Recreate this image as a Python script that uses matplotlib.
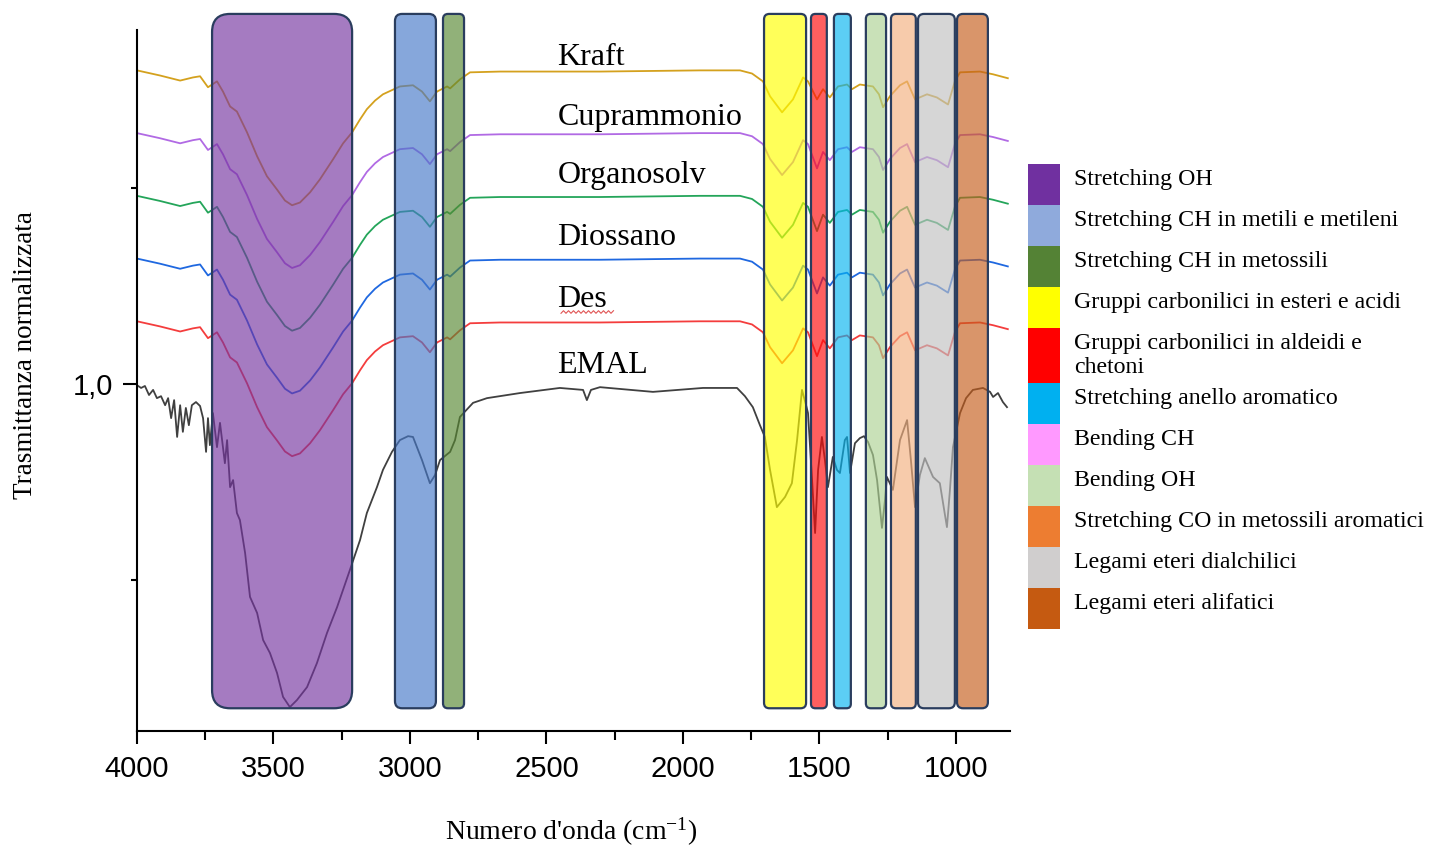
import numpy as np
import matplotlib.pyplot as plt
from matplotlib.colors import to_rgba
from matplotlib.patches import FancyBboxPatch, Rectangle
from matplotlib.ticker import MultipleLocator, FuncFormatter

plt.rcParams['font.family'] = ['Liberation Serif', 'DejaVu Serif']
plt.rcParams['mathtext.fontset'] = 'custom'
plt.rcParams['mathtext.rm'] = 'Liberation Serif'
plt.rcParams['mathtext.it'] = 'Liberation Serif:italic'

# wavenumbers (cm-1) at which the lignin spectra were read
wn_lig = [4000, 3916, 3842, 3795, 3769, 3740, 3707, 3685, 3659, 3634, 3597, 3560, 3524, 3487,
          3458, 3432, 3403, 3366, 3330, 3282, 3245, 3212, 3183, 3158, 3128, 3099, 3037, 2989,
          2956, 2927, 2901, 2864, 2853, 2817, 2780, 2670, 2304, 1938, 1791, 1747, 1707, 1681,
          1637, 1597, 1560, 1542, 1509, 1487, 1462, 1432, 1399, 1381, 1352, 1304, 1282, 1267,
          1242, 1205, 1179, 1150, 1106, 1070, 1029, 1004, 985, 912, 864, 810]

kraft = [1.800, 1.787, 1.774, 1.782, 1.785, 1.757, 1.772, 1.746, 1.708, 1.695, 1.642, 1.581, 1.530, 1.496,
         1.468, 1.456, 1.463, 1.489, 1.522, 1.573, 1.614, 1.642, 1.675, 1.701, 1.723, 1.739, 1.759, 1.762,
         1.746, 1.721, 1.746, 1.759, 1.754, 1.777, 1.795, 1.797, 1.797, 1.800, 1.800, 1.792, 1.772, 1.734,
         1.693, 1.726, 1.782, 1.772, 1.726, 1.752, 1.731, 1.759, 1.764, 1.752, 1.764, 1.759, 1.739, 1.706,
         1.734, 1.762, 1.772, 1.726, 1.739, 1.731, 1.713, 1.772, 1.795, 1.797, 1.790, 1.780]

cuprammonio = [1.640, 1.627, 1.614, 1.622, 1.625, 1.597, 1.612, 1.586, 1.548, 1.535, 1.482, 1.421, 1.370, 1.336,
               1.308, 1.296, 1.303, 1.329, 1.362, 1.413, 1.454, 1.482, 1.515, 1.541, 1.563, 1.579, 1.599, 1.602,
               1.586, 1.561, 1.586, 1.599, 1.594, 1.617, 1.635, 1.637, 1.637, 1.640, 1.640, 1.632, 1.612, 1.574,
               1.533, 1.566, 1.622, 1.612, 1.550, 1.592, 1.571, 1.599, 1.604, 1.592, 1.604, 1.599, 1.579, 1.546,
               1.574, 1.602, 1.612, 1.566, 1.579, 1.571, 1.553, 1.612, 1.635, 1.637, 1.630, 1.620]

organosolv = [1.480, 1.467, 1.454, 1.462, 1.465, 1.437, 1.452, 1.426, 1.388, 1.375, 1.322, 1.261, 1.210, 1.176,
              1.148, 1.136, 1.143, 1.169, 1.202, 1.253, 1.294, 1.322, 1.355, 1.381, 1.403, 1.419, 1.439, 1.442,
              1.426, 1.401, 1.426, 1.439, 1.434, 1.457, 1.475, 1.477, 1.477, 1.480, 1.480, 1.472, 1.452, 1.414,
              1.373, 1.406, 1.462, 1.452, 1.390, 1.432, 1.411, 1.439, 1.444, 1.432, 1.444, 1.439, 1.419, 1.386,
              1.414, 1.442, 1.452, 1.406, 1.419, 1.411, 1.393, 1.452, 1.475, 1.477, 1.470, 1.460]

diossano = [1.320, 1.307, 1.294, 1.302, 1.305, 1.277, 1.292, 1.266, 1.228, 1.215, 1.162, 1.101, 1.050, 1.016,
            0.988, 0.976, 0.983, 1.009, 1.042, 1.093, 1.134, 1.162, 1.195, 1.221, 1.243, 1.259, 1.279, 1.282,
            1.266, 1.241, 1.266, 1.279, 1.274, 1.297, 1.315, 1.317, 1.317, 1.320, 1.320, 1.312, 1.292, 1.254,
            1.213, 1.246, 1.302, 1.292, 1.231, 1.272, 1.251, 1.279, 1.284, 1.272, 1.284, 1.279, 1.259, 1.226,
            1.254, 1.282, 1.292, 1.246, 1.259, 1.251, 1.233, 1.292, 1.315, 1.317, 1.310, 1.300]

des = [1.160, 1.147, 1.134, 1.142, 1.145, 1.117, 1.132, 1.106, 1.068, 1.055, 1.002, 0.941, 0.890, 0.856,
       0.828, 0.816, 0.823, 0.849, 0.882, 0.933, 0.974, 1.002, 1.035, 1.061, 1.083, 1.099, 1.119, 1.122,
       1.106, 1.081, 1.106, 1.119, 1.114, 1.137, 1.155, 1.157, 1.157, 1.160, 1.160, 1.152, 1.132, 1.094,
       1.053, 1.086, 1.142, 1.132, 1.071, 1.112, 1.091, 1.119, 1.124, 1.112, 1.124, 1.119, 1.099, 1.066,
       1.094, 1.122, 1.132, 1.086, 1.099, 1.091, 1.073, 1.132, 1.155, 1.157, 1.150, 1.140]

# EMAL spectrum (noisier, read separately)
wn_emal = [4000, 3985, 3971, 3956, 3941, 3927, 3912, 3897, 3886, 3875, 3864, 3853, 3842, 3832,
           3821, 3810, 3799, 3784, 3769, 3758, 3747, 3740, 3733, 3722, 3707, 3696, 3678, 3670,
           3659, 3648, 3634, 3623, 3604, 3586, 3560, 3538, 3513, 3487, 3465, 3440, 3414, 3377,
           3341, 3304, 3267, 3220, 3183, 3158, 3121, 3099, 3066, 3037, 3007, 2989, 2956, 2927,
           2908, 2890, 2853, 2835, 2817, 2769, 2718, 2597, 2451, 2366, 2352, 2337, 2304, 2110,
           1927, 1802, 1773, 1744, 1718, 1700, 1681, 1656, 1626, 1601, 1582, 1564, 1549, 1542,
           1527, 1516, 1505, 1491, 1480, 1469, 1451, 1436, 1425, 1407, 1399, 1388, 1370, 1352,
           1337, 1322, 1304, 1289, 1271, 1260, 1253, 1231, 1205, 1179, 1165, 1150, 1132, 1114,
           1084, 1059, 1033, 1022, 1011, 985, 963, 938, 901, 875, 864, 846, 828, 813]
emal = [0.997, 0.990, 0.995, 0.972, 0.985, 0.964, 0.969, 0.946, 0.964, 0.913, 0.959, 0.865, 0.946, 0.878,
        0.939, 0.895, 0.946, 0.954, 0.944, 0.913, 0.827, 0.913, 0.844, 0.926, 0.839, 0.901, 0.798, 0.857,
        0.737, 0.755, 0.671, 0.653, 0.569, 0.457, 0.416, 0.347, 0.314, 0.263, 0.202, 0.176, 0.194, 0.227,
        0.288, 0.365, 0.431, 0.526, 0.602, 0.671, 0.737, 0.781, 0.827, 0.857, 0.867, 0.865, 0.806, 0.747,
        0.768, 0.806, 0.827, 0.857, 0.916, 0.952, 0.964, 0.977, 0.990, 0.985, 0.959, 0.985, 0.992, 0.980,
        0.990, 0.990, 0.969, 0.941, 0.895, 0.865, 0.781, 0.686, 0.712, 0.747, 0.857, 0.985, 0.946, 0.926,
        0.755, 0.620, 0.781, 0.865, 0.806, 0.737, 0.814, 0.781, 0.773, 0.857, 0.865, 0.773, 0.849, 0.862,
        0.867, 0.852, 0.819, 0.755, 0.633, 0.704, 0.763, 0.730, 0.857, 0.908, 0.806, 0.686, 0.768, 0.811,
        0.763, 0.747, 0.635, 0.730, 0.839, 0.926, 0.964, 0.985, 0.990, 0.980, 0.967, 0.977, 0.954, 0.941]

names = ['Kraft', 'Cuprammonio', 'Organosolv', 'Diossano', 'Des', 'EMAL']
line_colors = ['#d4a11e', '#b16ae4', '#24a55a', '#1f68e0', '#f43d3d', '#404040']
label_y = [1.814, 1.661, 1.513, 1.355, 1.196, 1.028]

# highlighted absorption regions (cm-1)
band_lo = [3212, 2905, 2802, 1549, 1473, 1385, 1256, 1147, 1004, 883]
band_hi = [3725, 3055, 2879, 1703, 1531, 1447, 1330, 1238, 1139, 996]
band_colors = ['#7534a0', '#4678c8', '#578732', '#ffff00', '#ff0a0a',
               '#04b4f0', '#acd292', '#f3af7f', '#c0c0c0', '#c55c1a']
band_round = [66, 26, 18, 20, 16, 16, 18, 18, 22, 22]

legend_labels = ['Stretching OH', 'Stretching CH in metili e metileni', 'Stretching CH in metossili',
                 'Gruppi carbonilici in esteri e acidi', 'Gruppi carbonilici in aldeidi e\nchetoni',
                 'Stretching anello aromatico', 'Bending CH', 'Bending OH',
                 'Stretching CO in metossili aromatici', 'Legami eteri dialchilici',
                 'Legami eteri alifatici']
legend_colors = ['#7030a0', '#8faadc', '#548235', '#ffff00', '#ff0000', '#00b0f0',
                 '#ff99ff', '#c5e0b4', '#ed7d31', '#d0cece', '#c55a11']

W, H = 1429, 847
fig = plt.figure(figsize=(W / 100, H / 100), dpi=100)
ax = fig.add_axes([137 / W, 1 - 731 / H, 873 / W, 701 / H])

series = [kraft, cuprammonio, organosolv, diossano, des]
for vals, c in zip(series, line_colors[:5]):
    ax.plot(wn_lig, vals, color=c, lw=1.3, zorder=2)
ax.plot(wn_emal, emal, color=line_colors[5], lw=1.3, zorder=2)

xmin, xmax = 4000, 802
ymin, ymax = 0.115, 1.903
ax.set_xlim(xmin, xmax)
ax.set_ylim(ymin, ymax)

# aspect so that rounded corners look circular in pixels
asp = ((ymax - ymin) / 701) / ((xmin - xmax) / 873)
band_bottom, band_top = 0.173, 1.944
for lo, hi, c, r in zip(band_lo, band_hi, band_colors, band_round):
    p = FancyBboxPatch((lo, band_bottom), hi - lo, band_top - band_bottom,
                       boxstyle=f"round,pad=0,rounding_size={r}", mutation_aspect=asp,
                       facecolor=to_rgba(c, 0.65), edgecolor='#2a3d5e', lw=1.6,
                       clip_on=False, zorder=3)
    ax.add_patch(p)

for n, y in zip(names, label_y):
    ax.text(2460, y, n, fontsize=23, va='baseline', ha='left', zorder=5)

ax.spines['top'].set_visible(False)
ax.spines['right'].set_visible(False)
ax.spines['left'].set_linewidth(1.5)
ax.spines['bottom'].set_linewidth(1.5)

ax.xaxis.set_major_locator(MultipleLocator(500))
ax.xaxis.set_minor_locator(MultipleLocator(250))
ax.yaxis.set_major_locator(MultipleLocator(1.0))
ax.yaxis.set_minor_locator(MultipleLocator(0.5))
ax.yaxis.set_major_formatter(FuncFormatter(lambda v, p: f"{v:.1f}".replace('.', ',')))
ax.tick_params(axis='x', which='major', length=9.5, width=1.5, pad=8)
ax.tick_params(axis='x', which='minor', length=6.5, width=1.5)
ax.tick_params(axis='y', which='major', length=10, width=1.5, pad=7)
ax.tick_params(axis='y', which='minor', length=4, width=1.5)
for lab in ax.get_xticklabels() + ax.get_yticklabels():
    lab.set_fontfamily('Liberation Sans')
    lab.set_fontsize(21)

ax.set_xlabel("Numero d'onda (cm$^{-1}$)", fontsize=20)
ax.xaxis.set_label_coords((571 - 137) / 873, (731 - 816) / 701)
ax.set_ylabel('Trasmittanza normalizzata', fontsize=19.5)
ax.yaxis.set_label_coords((38 - 137) / 873, (731 - 355) / 701)

# overlay in pixel coordinates for the side legend
lax = fig.add_axes([0, 0, 1, 1], facecolor='none')
lax.set_xlim(0, W)
lax.set_ylim(H, 0)
lax.axis('off')

top = 164
for lab, c in zip(legend_labels, legend_colors):
    h = 55 if '\n' in lab else 41
    lax.add_patch(Rectangle((1028, top), 32, h, facecolor=c, edgecolor='none'))
    lax.text(1074, top + 5, lab, fontsize=17.2, va='top', ha='left', linespacing=1.2)
    top += h

# red spell-check squiggle under "Des"
sx = np.arange(561, 614, 2.5)
sy = 312 + 1.3 * (-1) ** np.arange(len(sx))
lax.plot(sx, sy, color='#e05555', lw=0.8)

fig.savefig('out.png', dpi=100)
